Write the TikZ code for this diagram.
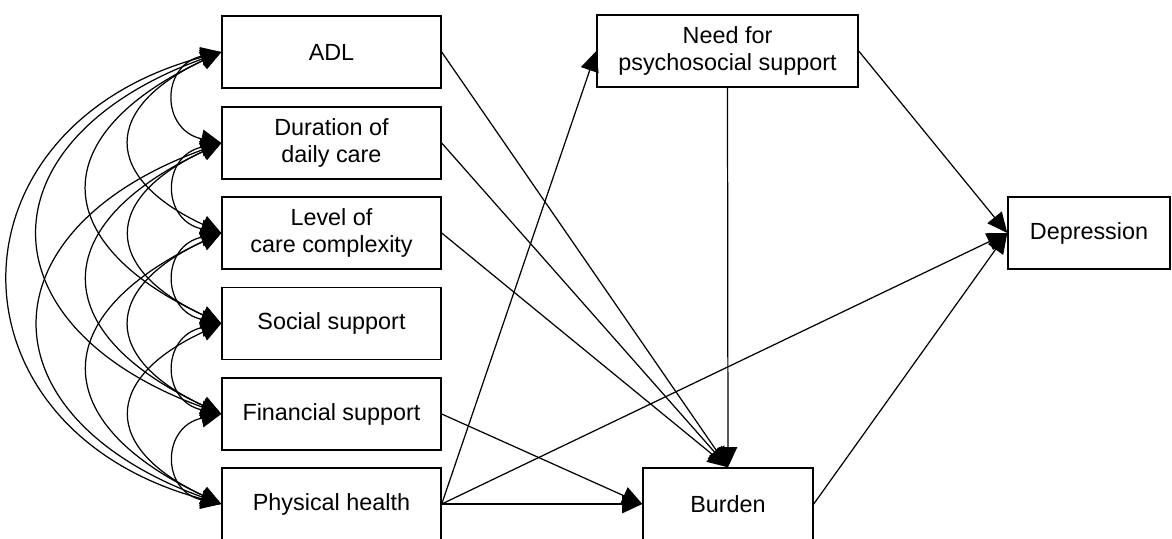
\documentclass[tikz,border=0pt]{standalone}
\usepackage{fontspec}
\setmainfont{Liberation Sans}
\usetikzlibrary{arrows.meta}
\tikzset{
    varnode/.style = {rectangle, draw=black, line width=0.8pt, align=center, minimum width=4.38cm, minimum height=1.44cm, inner sep=0pt, font=\fontsize{13.3}{15.3}\selectfont},
    edgen/.style = {-{Triangle[length=11.5pt,width=10.5pt]}, line width=0.7pt},
    covpath/.style = {{Triangle[length=11.5pt,width=10.5pt]}-{Triangle[length=11.5pt,width=10.5pt]}, line width=0.7pt},
    cova/.style = {covpath, out=192, in=168, looseness=1.75}, % neighbours
    covb/.style = {covpath, out=205, in=155, looseness=1.87},
    covc/.style = {covpath, out=205, in=155, looseness=1.83},
    covd/.style = {covpath, out=200, in=160, looseness=1.82},
    cove/.style = {covpath, out=195, in=165, looseness=1.65}, % first and last
}
\begin{document}
\begin{tikzpicture}
\useasboundingbox (0,0) rectangle (23.44,-10.76);
%
\node[varnode] at (6.63,-1.04) (adl) {ADL};
\node[varnode] at (6.63,-2.86) (dur) {Duration of\\daily care};
\node[varnode] at (6.63,-4.66) (lev) {Level of\\care complexity};
\node[varnode] at (6.63,-6.47) (soc) {Social support};
\node[varnode] at (6.63,-8.28) (fin) {Financial support};
\node[varnode] at (6.63,-10.08) (phy) {Physical health};
\node[varnode,minimum width=5.22cm] at (14.55,-1.02) (need) {Need for\\psychosocial support};
\node[varnode,minimum width=3.4cm] at (14.56,-10.08) (bur) {Burden};
\node[varnode,minimum width=3.24cm] at (21.78,-4.66) (dep) {Depression};
%
\draw[edgen] (adl.east) -- (bur.north);
\draw[edgen] (dur.east) -- (bur.north);
\draw[edgen] (lev.east) -- (bur.north);
\draw[edgen] (fin.east) -- (bur.west);
\draw[edgen] (phy.east) -- (bur.west);
\draw[edgen] (phy.east) -- (need.west);
\draw[edgen] (phy.east) -- (dep.west);
\draw[edgen] (need.south) -- (bur.north);
\draw[edgen] (need.east) -- (dep.west);
\draw[edgen] (bur.east) -- (dep.west);
%
\draw[cova] (adl.west) to (dur.west);
\draw[cova] (dur.west) to (lev.west);
\draw[cova] (lev.west) to (soc.west);
\draw[cova] (soc.west) to (fin.west);
\draw[cova] (fin.west) to (phy.west);
\draw[covb] (adl.west) to (lev.west);
\draw[covb] (dur.west) to (soc.west);
\draw[covb] (lev.west) to (fin.west);
\draw[covb] (soc.west) to (phy.west);
\draw[covc] (adl.west) to (soc.west);
\draw[covc] (dur.west) to (fin.west);
\draw[covc] (lev.west) to (phy.west);
\draw[covd] (adl.west) to (fin.west);
\draw[covd] (dur.west) to (phy.west);
\draw[cove] (adl.west) to (phy.west);

\end{tikzpicture}
\end{document}
